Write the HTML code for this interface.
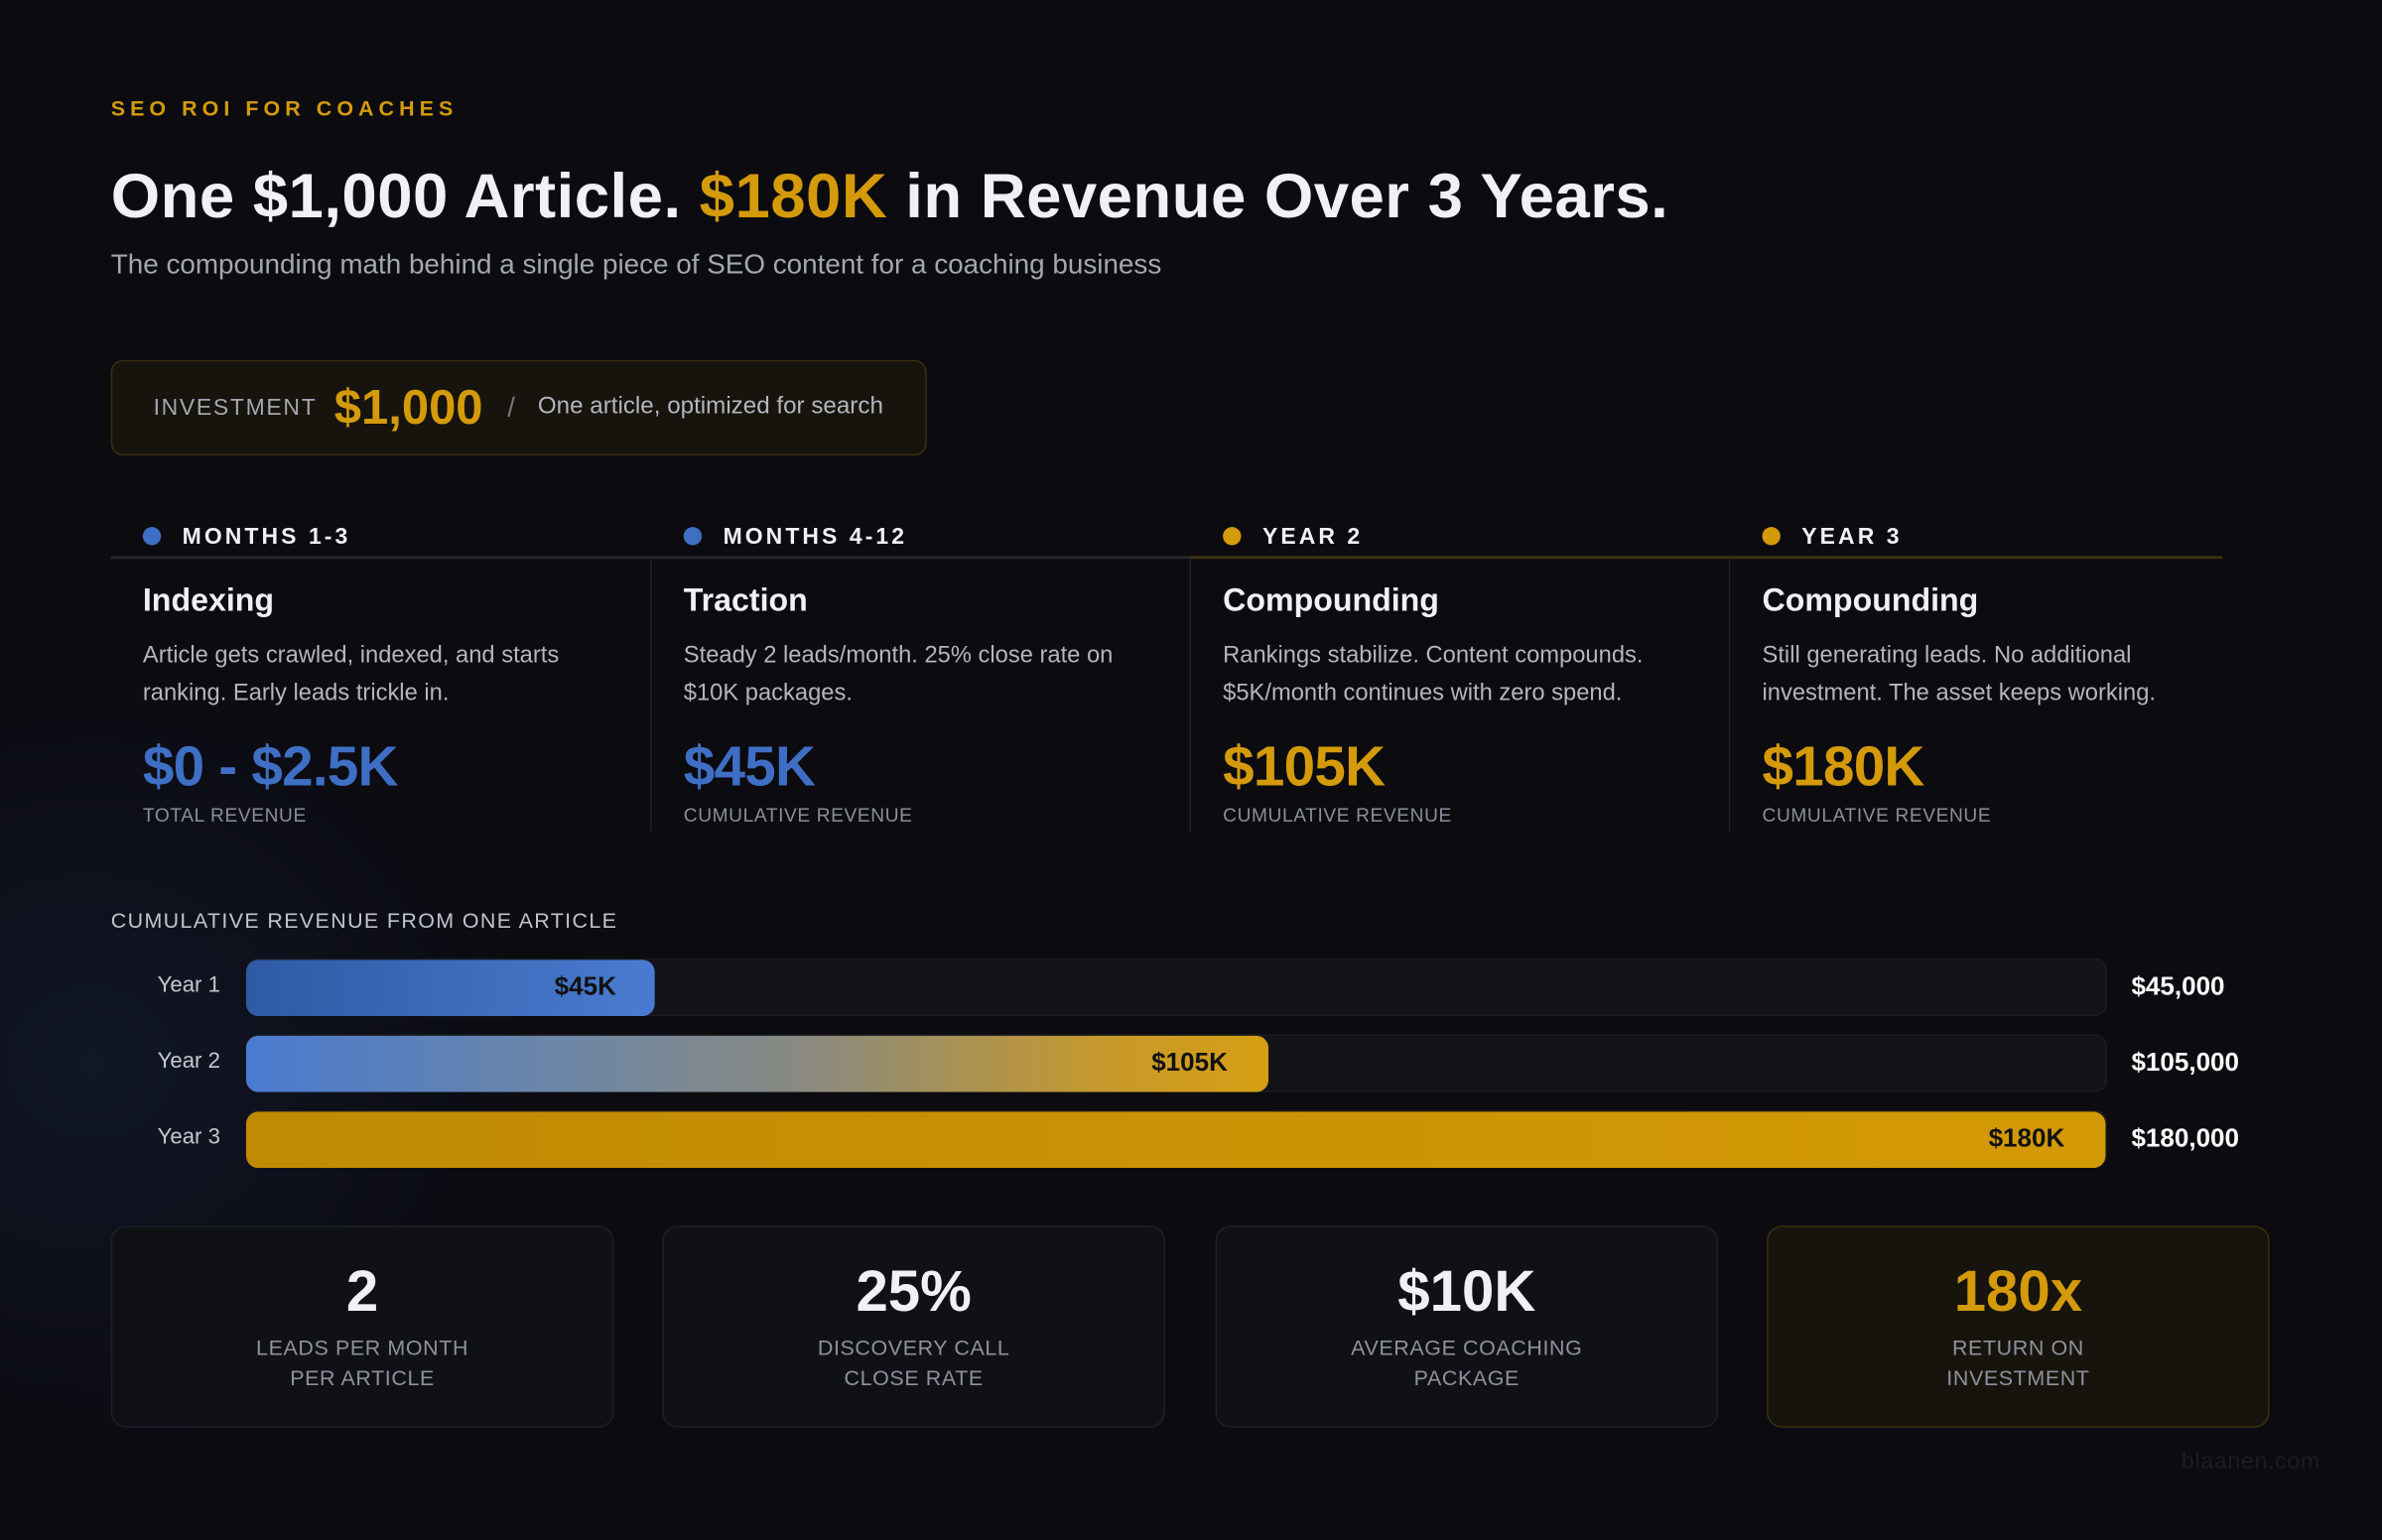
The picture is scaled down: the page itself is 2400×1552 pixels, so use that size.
<!DOCTYPE html>
<html><head><meta charset="utf-8"><style>
html,body{margin:0;padding:0;width:2400px;height:1552px;overflow:hidden;background:#0b0b10;}
#w{position:absolute;left:0;top:0;width:1568px;height:1014px;transform:scale(1.530612);transform-origin:0 0;
background:radial-gradient(ellipse 420px 380px at 60px 700px,rgba(30,45,80,0.35),rgba(0,0,0,0) 70%),#0b0b10;
font-family:"Liberation Sans",sans-serif;color:#f1f1f5;}
.a{position:absolute;white-space:nowrap;}
.g{color:#d49a0a}.b{color:#3f6fc4}
.dot{position:absolute;width:12px;height:12px;border-radius:50%;}
.ph{font-weight:bold;font-size:15px;letter-spacing:2px;}
.hd{font-weight:bold;font-size:21px;}
.ds{font-size:15.5px;color:#b3b6bf;line-height:25px;white-space:normal;width:320px;}
.big{font-weight:bold;font-size:37px;letter-spacing:-0.5px;}
.sl{font-size:12.5px;letter-spacing:0.4px;color:#8b8f99;}
.vl{position:absolute;width:1px;background:#1d1f27;top:368px;height:180px;}
.tr{position:absolute;left:162px;width:1225px;height:38px;border-radius:8px;background:#131318;border:1px solid #1b1c22;box-sizing:border-box;}
.fill{position:absolute;left:162px;height:38px;border-radius:8px;}
.bl{position:absolute;font-weight:bold;font-size:17px;color:#111;}
.yl{position:absolute;width:145px;left:0;text-align:right;font-size:14.5px;color:#c5c8d0;}
.vv{position:absolute;left:1403px;font-weight:bold;font-size:17px;color:#fff;}
.card{position:absolute;top:807px;width:331px;height:133px;border-radius:10px;border:1px solid #1e2028;background:#101116;box-sizing:border-box;text-align:center;}
.cn{position:absolute;top:22px;left:0;right:0;font-weight:bold;font-size:38px;}
.cl{position:absolute;top:69px;left:0;right:0;font-size:14px;letter-spacing:0.4px;color:#8e929c;line-height:20px;}
</style></head><body><div id="w">
<div class="a g" style="left:73px;top:63px;font-size:14px;font-weight:bold;letter-spacing:3.3px;">SEO ROI FOR COACHES</div>
<div class="a" style="left:73px;top:105px;font-size:41.5px;font-weight:bold;letter-spacing:0.3px;">One $1,000 Article. <span class="g">$180K</span> in Revenue Over 3 Years.</div>
<div class="a" style="left:73px;top:164px;font-size:18.2px;color:#a3a7b0;">The compounding math behind a single piece of SEO content for a coaching business</div>

<div class="a" style="left:73px;top:237px;width:537px;height:63px;box-sizing:border-box;border:1px solid #3a2f10;border-radius:8px;background:#17140d;"></div>
<div class="a" style="left:101px;top:260px;font-size:15px;letter-spacing:1.1px;color:#a3a7b0;">INVESTMENT</div>
<div class="a g" style="left:220px;top:250px;font-size:32px;font-weight:bold;">$1,000</div>
<div class="a" style="left:334px;top:258px;font-size:18px;color:#777;">/</div>
<div class="a" style="left:354px;top:259px;font-size:15.8px;color:#b3b6bf;">One article, optimized for search</div>

<div class="a" style="left:73px;top:366px;width:710px;height:2px;background:#23262f;"></div>
<div class="a" style="left:783px;top:366px;width:680px;height:2px;background:#3a2f10;"></div>
<div class="vl" style="left:428px"></div><div class="vl" style="left:783px"></div><div class="vl" style="left:1138px"></div>

<div class="dot" style="left:94px;top:347px;background:#3f6fc4"></div>
<div class="dot" style="left:450px;top:347px;background:#3f6fc4"></div>
<div class="dot" style="left:805px;top:347px;background:#d49a0a"></div>
<div class="dot" style="left:1160px;top:347px;background:#d49a0a"></div>
<div class="a ph" style="left:120px;top:345px">MONTHS 1-3</div>
<div class="a ph" style="left:476px;top:345px">MONTHS 4-12</div>
<div class="a ph" style="left:831px;top:345px">YEAR 2</div>
<div class="a ph" style="left:1186px;top:345px">YEAR 3</div>

<div class="a hd" style="left:94px;top:384px">Indexing</div>
<div class="a hd" style="left:450px;top:384px">Traction</div>
<div class="a hd" style="left:805px;top:384px">Compounding</div>
<div class="a hd" style="left:1160px;top:384px">Compounding</div>
<div class="a ds" style="left:94px;top:419px">Article gets crawled, indexed, and starts ranking. Early leads trickle in.</div>
<div class="a ds" style="left:450px;top:419px">Steady 2 leads/month. 25% close rate on $10K packages.</div>
<div class="a ds" style="left:805px;top:419px">Rankings stabilize. Content compounds. $5K/month continues with zero spend.</div>
<div class="a ds" style="left:1160px;top:419px">Still generating leads. No additional investment. The asset keeps working.</div>
<div class="a big b" style="left:94px;top:484px">$0 - $2.5K</div>
<div class="a big b" style="left:450px;top:484px">$45K</div>
<div class="a big g" style="left:805px;top:484px">$105K</div>
<div class="a big g" style="left:1160px;top:484px">$180K</div>
<div class="a sl" style="left:94px;top:530px">TOTAL REVENUE</div>
<div class="a sl" style="left:450px;top:530px">CUMULATIVE REVENUE</div>
<div class="a sl" style="left:805px;top:530px">CUMULATIVE REVENUE</div>
<div class="a sl" style="left:1160px;top:530px">CUMULATIVE REVENUE</div>

<div class="a" style="left:73px;top:598px;font-size:14px;letter-spacing:0.9px;color:#c0c4cc;">CUMULATIVE REVENUE FROM ONE ARTICLE</div>
<div class="tr" style="top:631px"></div><div class="tr" style="top:681px"></div><div class="tr" style="top:731px"></div>
<div class="fill" style="top:632px;height:37px;width:269px;background:linear-gradient(90deg,#2f5aa4,#4a7bd0);"></div>
<div class="fill" style="top:682px;height:37px;width:673px;background:linear-gradient(90deg,#4a7bd0 0%,#6b86a8 30%,#8a8a7f 55%,#c89a2a 85%,#d69e12 100%);"></div>
<div class="fill" style="top:732px;height:37px;width:1224px;background:linear-gradient(90deg,#c08a04,#d49a05);"></div>
<div class="bl" style="left:365px;top:640px">$45K</div>
<div class="bl" style="left:758px;top:690px">$105K</div>
<div class="bl" style="left:1309px;top:740px">$180K</div>
<div class="yl" style="top:641px">Year 1</div>
<div class="yl" style="top:691px">Year 2</div>
<div class="yl" style="top:741px">Year 3</div>
<div class="vv" style="top:640px">$45,000</div>
<div class="vv" style="top:690px">$105,000</div>
<div class="vv" style="top:740px">$180,000</div>

<div class="card" style="left:73px"><div class="cn">2</div><div class="cl">LEADS PER MONTH<br>PER ARTICLE</div></div>
<div class="card" style="left:436px"><div class="cn">25%</div><div class="cl">DISCOVERY CALL<br>CLOSE RATE</div></div>
<div class="card" style="left:800px"><div class="cn">$10K</div><div class="cl">AVERAGE COACHING<br>PACKAGE</div></div>
<div class="card" style="left:1163px;background:#17140d;border-color:#3a2f10"><div class="cn g">180x</div><div class="cl">RETURN ON<br>INVESTMENT</div></div>
<div class="a" style="left:1436px;top:954px;font-size:15px;color:#1c1d24;letter-spacing:0.5px;">blaanen.com</div>
</div></body></html>
